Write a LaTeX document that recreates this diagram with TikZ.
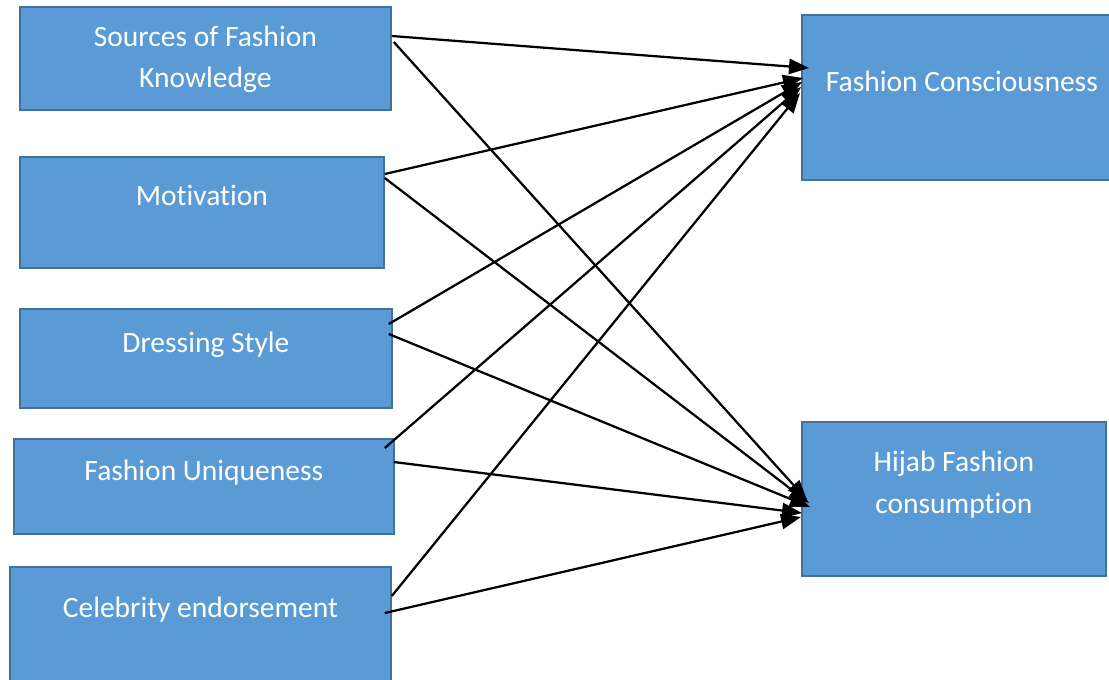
\documentclass[tikz,border=0pt]{standalone}
\usepackage{fontspec}
\setmainfont{Carlito}[Ligatures=NoCommon]
\usetikzlibrary{arrows.meta,calc}
\definecolor{boxblue}{HTML}{5B9BD5}
\definecolor{boxedge}{HTML}{41719C}
\begin{document}
\begin{tikzpicture}[x=0.025cm, y=-0.025cm,
    factor/.style={rectangle, draw=boxedge, fill=boxblue, line width=1.2pt, text=white,
      inner sep=0pt, anchor=north west, font=\fontsize{21}{29.5}\selectfont},
    arr/.style={-{Triangle[length=0.5cm,width=0.38cm]}, line width=1.6pt}]
  \useasboundingbox (0,0) rectangle (1109,679);
  % independent variables
  \node (sfk) [factor, align=center, minimum width=9.275cm, minimum height=2.575cm, text height=2.025cm, text depth=0.55cm] at (19,6) {Sources of Fashion\\Knowledge};
  \node (mot) [factor, minimum width=9.1cm, minimum height=2.775cm, text height=1.225cm, text depth=1.55cm] at (19,156) {Motivation};
  \node (ds) [factor, minimum width=9.3cm, minimum height=2.475cm, text height=1.09cm, text depth=1.38cm] at (19,308) {Dressing Style};
  \node (fu) [factor, minimum width=9.5cm, minimum height=2.375cm, text height=1.05cm, text depth=1.325cm] at (13,438) {Fashion Uniqueness};
  \node (ce) [factor, minimum width=9.525cm, minimum height=2.85cm, text height=1.27cm, text depth=1.58cm] at (9,566) {Celebrity endorsement};
  % dependent variables
  \node (fc) [factor, minimum width=8cm, minimum height=4.125cm, text height=1.92cm, text depth=2.21cm] at (801,14) {Fashion Consciousness};
  \node (hfc) [factor, align=center, minimum width=7.6cm, minimum height=3.85cm, text height=2.29cm, text depth=1.56cm] at (801,421) {Hijab Fashion\\consumption};
  % paths to fashion consciousness
  \draw [arr] ($(sfk.north east)+(0,30)$) -- ($(fc.north west)+(8,54)$);
  \draw [arr] ($(mot.north east)+(0,18)$) -- ($(fc.north west)+(2,64)$);
  \draw [arr] ($(ds.north east)+(-4,16)$) -- ($(fc.north west)+(1,68)$);
  \draw [arr] ($(fu.north east)+(-10,10)$) -- ($(fc.north west)+(0,73)$);
  \draw [arr] ($(ce.north east)+(0,30)$) -- ($(fc.north west)+(-1,79)$);
  % paths to hijab fashion consumption
  \draw [arr] ($(sfk.north east)+(2,36)$) -- ($(hfc.north west)+(6,79)$);
  \draw [arr] ($(mot.north east)+(0,22)$) -- ($(hfc.north west)+(8,82)$);
  \draw [arr] ($(ds.north east)+(-4,26)$) -- ($(hfc.north west)+(9,86)$);
  \draw [arr] ($(fu.north east)+(-1,24)$) -- ($(hfc.north west)+(1,92)$);
  \draw [arr] ($(ce.north east)+(-7,47)$) -- ($(hfc.north west)+(0,96)$);
\end{tikzpicture}
\end{document}
